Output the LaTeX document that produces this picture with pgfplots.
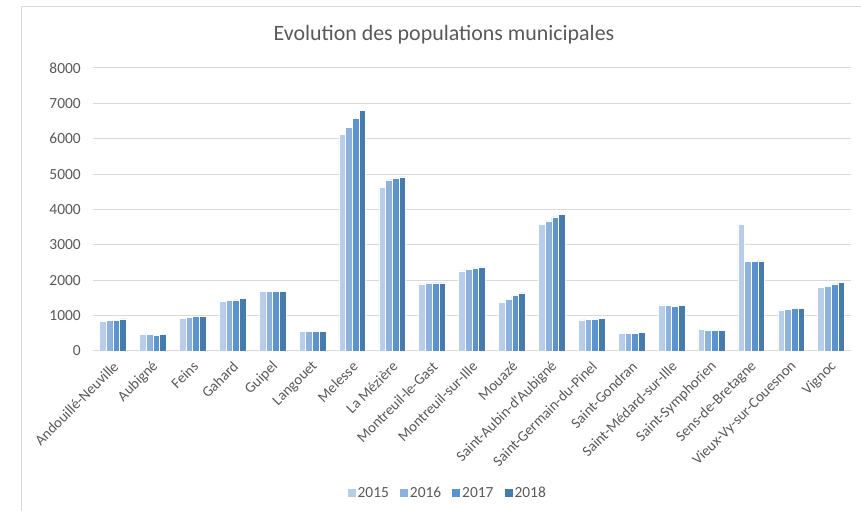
\documentclass[border=0pt]{standalone}
\usepackage{pgfplots}
\pgfplotsset{compat=1.18}
\usepackage{fontspec}
\setmainfont{Carlito}
\definecolor{cA}{RGB}{184,205,233}
\definecolor{cB}{RGB}{141,178,222}
\definecolor{cC}{RGB}{91,148,204}
\definecolor{cD}{RGB}{70,123,172}
\definecolor{txt}{RGB}{89,89,89}
\definecolor{grd}{RGB}{217,217,217}
\begin{document}
\begin{tikzpicture}
\path[use as bounding box] (0,0) rectangle (861bp,511bp);
\draw[grd, line width=1bp] (21bp,0) -- (21bp,504bp) -- (861bp,504bp);
\node[txt, font=\fontsize{22}{26}\selectfont] at (444bp,476bp) {Evolution des populations municipales};
\begin{axis}[
  at={(93bp,160bp)}, anchor=south west,
  scale only axis, width=758bp, height=283bp,
  xmin=-0.5, xmax=18.5, ymin=0, ymax=8000,
  ybar=0pt, bar width=6.7bp,
  xtick={0,...,18},
  xticklabels={Andouillé-Neuville,Aubigné,Feins,Gahard,Guipel,Langouet,Melesse,La Mézière,Montreuil-le-Gast,Montreuil-sur-Ille,Mouazé,Saint-Aubin-d\textquotesingle Aubigné,Saint-Germain-du-Pinel,Saint-Gondran,Saint-Médard-sur-Ille,Saint-Symphorien,Sens-de-Bretagne,Vieux-Vy-sur-Couesnon,Vignoc},
  ytick={0,1000,...,8000},
  major tick length=0pt,
  ymajorgrids, grid style={grd, line width=1bp},
  axis line style={draw=none},
  axis x line*=bottom,
  x axis line style={grd, line width=1.5bp},
  y axis line style={draw=none},
  /pgf/number format/assume math mode=true,
  /pgf/number format/1000 sep={},
  tick label style={txt, font=\fontsize{14.9}{16}\selectfont},
  yticklabel style={inner sep=0pt, anchor=east, xshift=-12bp, font=\fontsize{15.5}{16}\selectfont},
  xticklabel style={inner sep=0pt, yshift=-13bp, xshift=3bp, rotate=45, anchor=east},
  legend columns=4,
  legend style={at={(0.468,-0.502)}, anchor=center, draw=none, fill=none,
    font=\fontsize{15.5}{16}\selectfont, text=txt,
    /tikz/every even column/.append style={column sep=9bp}},
  legend image code/.code={\path[#1, draw=none] (0bp,-4bp) rectangle (8bp,4bp);},
  every axis plot/.append style={draw=white, line width=0.5bp},
]
\addplot[fill=cA] coordinates {(0,830)(1,465)(2,915)(3,1395)(4,1680)(5,565)(6,6120)(7,4640)(8,1900)(9,2265)(10,1380)(11,3580)(12,880)(13,500)(14,1305)(15,620)(16,3575)(17,1165)(18,1815)};
\addplot[fill=cB] coordinates {(0,860)(1,465)(2,945)(3,1425)(4,1680)(5,565)(6,6330)(7,4840)(8,1925)(9,2310)(10,1465)(11,3680)(12,900)(13,500)(14,1285)(15,600)(16,2530)(17,1185)(18,1835)};
\addplot[fill=cC] coordinates {(0,860)(1,445)(2,970)(3,1445)(4,1680)(5,565)(6,6570)(7,4880)(8,1925)(9,2350)(10,1570)(11,3790)(12,900)(13,500)(14,1270)(15,575)(16,2530)(17,1205)(18,1900)};
\addplot[fill=cD] coordinates {(0,905)(1,465)(2,970)(3,1490)(4,1680)(5,565)(6,6800)(7,4920)(8,1925)(9,2380)(10,1645)(11,3860)(12,920)(13,530)(14,1285)(15,575)(16,2550)(17,1205)(18,1930)};
\legend{2015,2016,2017,2018}
\end{axis}
\end{tikzpicture}
\end{document}
